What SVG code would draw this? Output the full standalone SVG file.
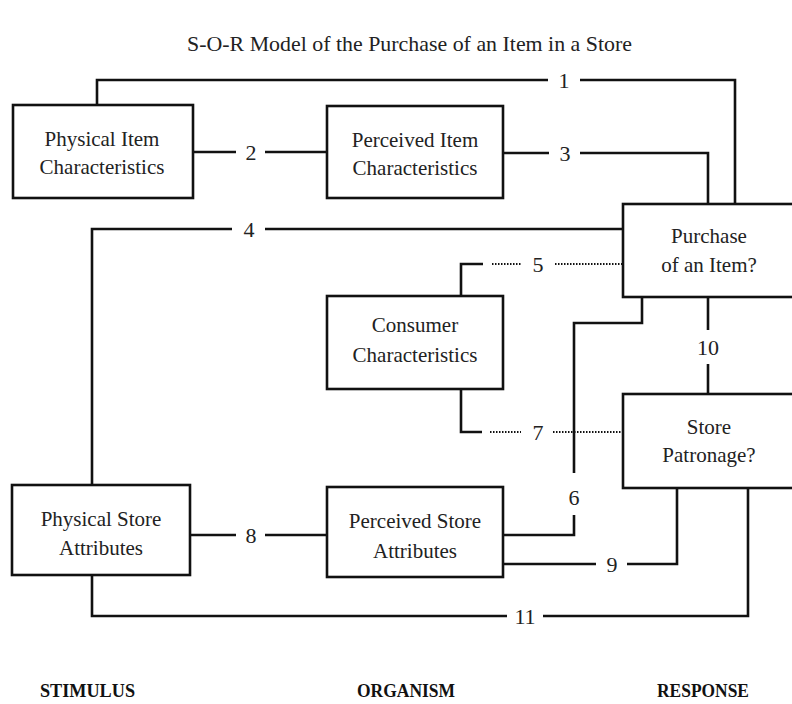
<svg xmlns="http://www.w3.org/2000/svg" width="792" height="704" viewBox="0 0 792 704">
<style>
.box{fill:#fff;stroke:#111;stroke-width:2.6}
.t{font-family:"Liberation Serif","Times New Roman",serif;font-size:21px;fill:#222;text-anchor:middle}
.n{font-family:"Liberation Serif","Times New Roman",serif;font-size:22px;fill:#222;text-anchor:middle}
.ln{fill:none;stroke:#111;stroke-width:2.6}
.dot{fill:none;stroke:#111;stroke-width:2.2;stroke-dasharray:1.5 1.5}
.lab{font-family:"Liberation Serif","Times New Roman",serif;font-size:19px;font-weight:bold;fill:#111}
</style>
<rect width="792" height="704" fill="#fff"/>
<text x="187" y="51" textLength="445" lengthAdjust="spacingAndGlyphs" style="font-family:'Liberation Serif','Times New Roman',serif;font-size:21px;fill:#222">S-O-R Model of the Purchase of an Item in a Store</text>
<g id="connectors">
<polyline class="ln" points="97,105 97,80 548,80"/>
<polyline class="ln" points="580,80 735,80 735,204"/>
<text class="n" x="564" y="88">1</text>
<line class="ln" x1="193" y1="152" x2="236" y2="152"/>
<line class="ln" x1="265" y1="152" x2="327" y2="152"/>
<text class="n" x="251" y="160">2</text>
<line class="ln" x1="503" y1="153" x2="549" y2="153"/>
<polyline class="ln" points="580,153 708,153 708,204"/>
<text class="n" x="565" y="161">3</text>
<polyline class="ln" points="92,485 92,229 232,229"/>
<line class="ln" x1="265" y1="229" x2="623" y2="229"/>
<text class="n" x="249" y="237">4</text>
<polyline class="ln" points="461,296 461,264 483,264"/>
<line class="dot" x1="492" y1="264" x2="522" y2="264"/>
<line class="dot" x1="555" y1="264" x2="623" y2="264"/>
<text class="n" x="538" y="272">5</text>
<polyline class="ln" points="461,389 461,432 482,432"/>
<line class="dot" x1="490" y1="432" x2="521" y2="432"/>
<line class="dot" x1="553" y1="432" x2="623" y2="432"/>
<text class="n" x="538" y="440">7</text>
<line class="ln" x1="708" y1="297" x2="708" y2="330"/>
<line class="ln" x1="708" y1="364" x2="708" y2="394"/>
<text class="n" x="708" y="355">10</text>
<polyline class="ln" points="642,297 642,323 574,323 574,473"/>
<polyline class="ln" points="574,515 574,535 503,535"/>
<text class="n" x="574" y="505">6</text>
<line class="ln" x1="190" y1="535" x2="236" y2="535"/>
<line class="ln" x1="265" y1="535" x2="327" y2="535"/>
<text class="n" x="251" y="543">8</text>
<line class="ln" x1="503" y1="564" x2="596" y2="564"/>
<polyline class="ln" points="627,564 677,564 677,488"/>
<text class="n" x="612" y="572">9</text>
<polyline class="ln" points="92,575 92,616 507,616"/>
<polyline class="ln" points="543,616 748,616 748,488"/>
<text class="n" x="525" y="624">11</text>
</g>
<g id="physical-item">
<rect class="box" x="13" y="105" width="180" height="93"/>
<text class="t" x="102" y="146">Physical Item</text>
<text class="t" x="102" y="174">Characteristics</text>
</g>
<g id="perceived-item">
<rect class="box" x="327" y="106" width="176" height="92"/>
<text class="t" x="415" y="147">Perceived Item</text>
<text class="t" x="415" y="175">Characteristics</text>
</g>
<g id="purchase">
<rect class="box" x="623" y="204" width="180" height="93"/>
<text class="t" x="709" y="243">Purchase</text>
<text class="t" x="709" y="272">of an Item?</text>
</g>
<g id="consumer">
<rect class="box" x="327" y="296" width="176" height="93"/>
<text class="t" x="415" y="332">Consumer</text>
<text class="t" x="415" y="362">Characteristics</text>
</g>
<g id="store-patronage">
<rect class="box" x="623" y="394" width="180" height="94"/>
<text class="t" x="709" y="434">Store</text>
<text class="t" x="709" y="462">Patronage?</text>
</g>
<g id="physical-store">
<rect class="box" x="12" y="485" width="178" height="90"/>
<text class="t" x="101" y="526">Physical Store</text>
<text class="t" x="101" y="555">Attributes</text>
</g>
<g id="perceived-store">
<rect class="box" x="327" y="487" width="176" height="90"/>
<text class="t" x="415" y="528">Perceived Store</text>
<text class="t" x="415" y="558">Attributes</text>
</g>
<text class="lab" x="40" y="697" textLength="95" lengthAdjust="spacingAndGlyphs">STIMULUS</text>
<text class="lab" x="357" y="697" textLength="98" lengthAdjust="spacingAndGlyphs">ORGANISM</text>
<text class="lab" x="657" y="697" textLength="92" lengthAdjust="spacingAndGlyphs">RESPONSE</text>
</svg>
